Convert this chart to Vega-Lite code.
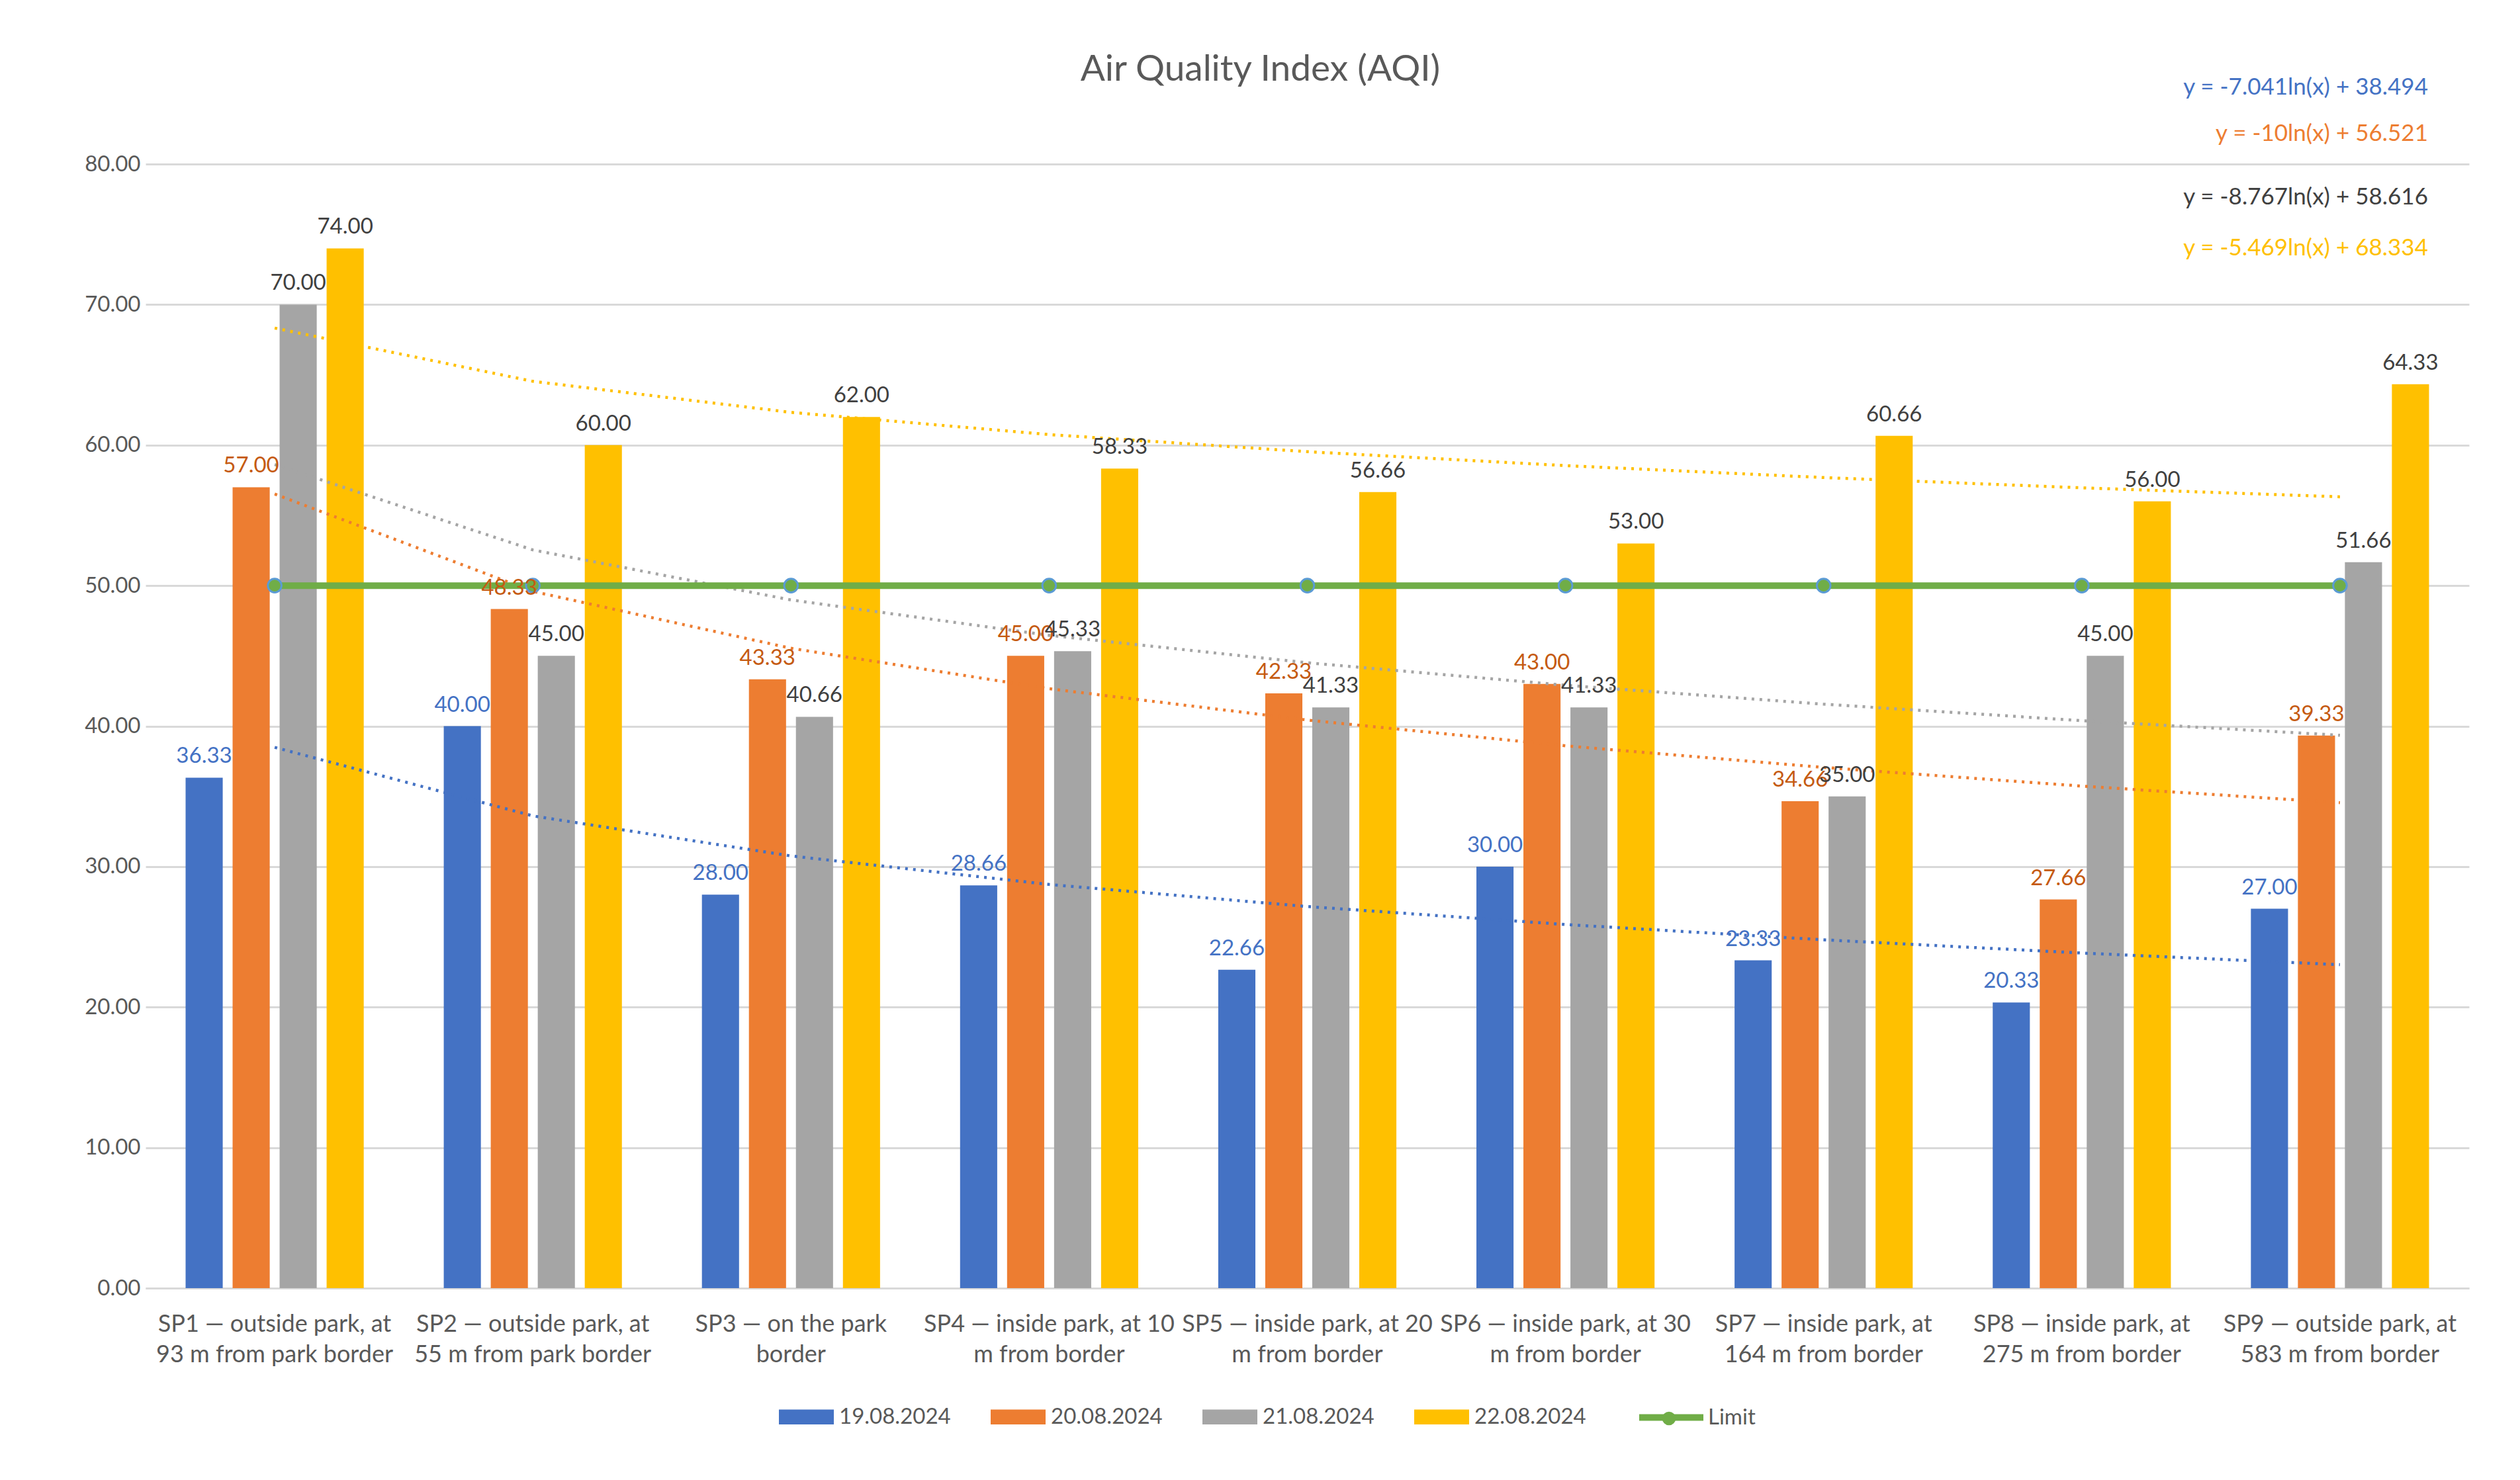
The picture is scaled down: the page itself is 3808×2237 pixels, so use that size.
{
  "$schema": "https://vega.github.io/schema/vega-lite/v6.json",
  "description": "Air Quality Index (AQI) by sampling point and day, with logarithmic trend lines and the limit line.",
  "width": 3511,
  "height": 1699,
  "autosize": {"type": "none"},
  "padding": {"left": 220, "top": 248, "right": 77, "bottom": 290},
  "background": "white",
  "title": {
    "text": "Air Quality Index (AQI)",
    "frame": "group",
    "anchor": "middle",
    "dx": -71,
    "offset": -62,
    "baseline": "alphabetic",
    "fontSize": 55,
    "font": "Lato",
    "fontWeight": "normal",
    "color": "#595959"
  },
  "datasets": {
    "aqi": [
      {"site": "SP1 — outside park, at\n93 m from park border", "series": "19.08.2024", "aqi": 36.33, "fit": 38.49},
      {"site": "SP1 — outside park, at\n93 m from park border", "series": "20.08.2024", "aqi": 57.00, "fit": 56.52},
      {"site": "SP1 — outside park, at\n93 m from park border", "series": "21.08.2024", "aqi": 70.00, "fit": 58.62},
      {"site": "SP1 — outside park, at\n93 m from park border", "series": "22.08.2024", "aqi": 74.00, "fit": 68.33},
      {"site": "SP2 — outside park, at\n55 m from park border", "series": "19.08.2024", "aqi": 40.00, "fit": 33.61},
      {"site": "SP2 — outside park, at\n55 m from park border", "series": "20.08.2024", "aqi": 48.33, "fit": 49.59},
      {"site": "SP2 — outside park, at\n55 m from park border", "series": "21.08.2024", "aqi": 45.00, "fit": 52.54},
      {"site": "SP2 — outside park, at\n55 m from park border", "series": "22.08.2024", "aqi": 60.00, "fit": 64.54},
      {"site": "SP3 — on the park\nborder", "series": "19.08.2024", "aqi": 28.00, "fit": 30.76},
      {"site": "SP3 — on the park\nborder", "series": "20.08.2024", "aqi": 43.33, "fit": 45.54},
      {"site": "SP3 — on the park\nborder", "series": "21.08.2024", "aqi": 40.66, "fit": 48.98},
      {"site": "SP3 — on the park\nborder", "series": "22.08.2024", "aqi": 62.00, "fit": 62.33},
      {"site": "SP4 — inside park, at 10\nm from border", "series": "19.08.2024", "aqi": 28.66, "fit": 28.73},
      {"site": "SP4 — inside park, at 10\nm from border", "series": "20.08.2024", "aqi": 45.00, "fit": 42.66},
      {"site": "SP4 — inside park, at 10\nm from border", "series": "21.08.2024", "aqi": 45.33, "fit": 46.46},
      {"site": "SP4 — inside park, at 10\nm from border", "series": "22.08.2024", "aqi": 58.33, "fit": 60.75},
      {"site": "SP5 — inside park, at 20\nm from border", "series": "19.08.2024", "aqi": 22.66, "fit": 27.16},
      {"site": "SP5 — inside park, at 20\nm from border", "series": "20.08.2024", "aqi": 42.33, "fit": 40.43},
      {"site": "SP5 — inside park, at 20\nm from border", "series": "21.08.2024", "aqi": 41.33, "fit": 44.51},
      {"site": "SP5 — inside park, at 20\nm from border", "series": "22.08.2024", "aqi": 56.66, "fit": 59.53},
      {"site": "SP6 — inside park, at 30\nm from border", "series": "19.08.2024", "aqi": 30.00, "fit": 25.88},
      {"site": "SP6 — inside park, at 30\nm from border", "series": "20.08.2024", "aqi": 43.00, "fit": 38.60},
      {"site": "SP6 — inside park, at 30\nm from border", "series": "21.08.2024", "aqi": 41.33, "fit": 42.91},
      {"site": "SP6 — inside park, at 30\nm from border", "series": "22.08.2024", "aqi": 53.00, "fit": 58.54},
      {"site": "SP7 — inside park, at\n164 m from border", "series": "19.08.2024", "aqi": 23.33, "fit": 24.79},
      {"site": "SP7 — inside park, at\n164 m from border", "series": "20.08.2024", "aqi": 34.66, "fit": 37.06},
      {"site": "SP7 — inside park, at\n164 m from border", "series": "21.08.2024", "aqi": 35.00, "fit": 41.56},
      {"site": "SP7 — inside park, at\n164 m from border", "series": "22.08.2024", "aqi": 60.66, "fit": 57.69},
      {"site": "SP8 — inside park, at\n275 m from border", "series": "19.08.2024", "aqi": 20.33, "fit": 23.85},
      {"site": "SP8 — inside park, at\n275 m from border", "series": "20.08.2024", "aqi": 27.66, "fit": 35.73},
      {"site": "SP8 — inside park, at\n275 m from border", "series": "21.08.2024", "aqi": 45.00, "fit": 40.39},
      {"site": "SP8 — inside park, at\n275 m from border", "series": "22.08.2024", "aqi": 56.00, "fit": 56.96},
      {"site": "SP9 — outside park, at\n583 m from border", "series": "19.08.2024", "aqi": 27.00, "fit": 23.02},
      {"site": "SP9 — outside park, at\n583 m from border", "series": "20.08.2024", "aqi": 39.33, "fit": 34.55},
      {"site": "SP9 — outside park, at\n583 m from border", "series": "21.08.2024", "aqi": 51.66, "fit": 39.35},
      {"site": "SP9 — outside park, at\n583 m from border", "series": "22.08.2024", "aqi": 64.33, "fit": 56.32}
    ],
    "limit": [
      {"site": "SP1 — outside park, at\n93 m from park border", "series": "Limit", "kind": "limit marker", "aqi": 50},
      {"site": "SP2 — outside park, at\n55 m from park border", "series": "Limit", "kind": "limit marker", "aqi": 50},
      {"site": "SP3 — on the park\nborder", "series": "Limit", "kind": "limit marker", "aqi": 50},
      {"site": "SP4 — inside park, at 10\nm from border", "series": "Limit", "kind": "limit marker", "aqi": 50},
      {"site": "SP5 — inside park, at 20\nm from border", "series": "Limit", "kind": "limit marker", "aqi": 50},
      {"site": "SP6 — inside park, at 30\nm from border", "series": "Limit", "kind": "limit marker", "aqi": 50},
      {"site": "SP7 — inside park, at\n164 m from border", "series": "Limit", "kind": "limit marker", "aqi": 50},
      {"site": "SP8 — inside park, at\n275 m from border", "series": "Limit", "kind": "limit marker", "aqi": 50},
      {"site": "SP9 — outside park, at\n583 m from border", "series": "Limit", "kind": "limit marker", "aqi": 50}
    ],
    "equations": [
      {"site": "SP9 — outside park, at\n583 m from border", "series": "19.08.2024", "equation": "y = -7.041ln(x) + 38.494", "aqi": 85.45},
      {"site": "SP9 — outside park, at\n583 m from border", "series": "20.08.2024", "equation": "y = -10ln(x) + 56.521", "aqi": 82.15},
      {"site": "SP9 — outside park, at\n583 m from border", "series": "21.08.2024", "equation": "y = -8.767ln(x) + 58.616", "aqi": 77.65},
      {"site": "SP9 — outside park, at\n583 m from border", "series": "22.08.2024", "equation": "y = -5.469ln(x) + 68.334", "aqi": 74.0}
    ]
  },
  "encoding": {
    "x": {
      "field": "site",
      "type": "nominal",
      "title": null,
      "scale": {
        "domain": [
          "SP1 — outside park, at\n93 m from park border",
          "SP2 — outside park, at\n55 m from park border",
          "SP3 — on the park\nborder",
          "SP4 — inside park, at 10\nm from border",
          "SP5 — inside park, at 20\nm from border",
          "SP6 — inside park, at 30\nm from border",
          "SP7 — inside park, at\n164 m from border",
          "SP8 — inside park, at\n275 m from border",
          "SP9 — outside park, at\n583 m from border"
        ],
        "paddingInner": 0.31,
        "paddingOuter": 0.155
      },
      "axis": {
        "labelExpr": "split(datum.label, '\\n')",
        "labelAngle": 0,
        "labelFont": "Lato",
        "labelFontSize": 36,
        "labelColor": "#595959",
        "labelPadding": 37,
        "labelLineHeight": 46,
        "labelLimit": 1000,
        "ticks": false,
        "grid": false,
        "domainColor": "#D9D9D9",
        "domainWidth": 3
      }
    },
    "y": {
      "field": "aqi",
      "type": "quantitative",
      "title": null,
      "scale": {"domain": [0, 80], "nice": false},
      "axis": {
        "values": [0, 10, 20, 30, 40, 50, 60, 70, 80],
        "format": ".2f",
        "grid": true,
        "gridColor": "#D9D9D9",
        "gridWidth": 3,
        "domain": false,
        "ticks": false,
        "labelFont": "Lato",
        "labelFontSize": 33,
        "labelColor": "#595959",
        "labelPadding": 8
      }
    }
  },
  "layer": [
    {
      "data": {"name": "aqi"},
      "mark": {"type": "bar"},
      "encoding": {
        "xOffset": {
          "field": "series",
          "type": "nominal",
          "scale": {"domain": ["19.08.2024", "20.08.2024", "21.08.2024", "22.08.2024"], "paddingInner": 0.21, "paddingOuter": 0}
        },
        "color": {
          "field": "series",
          "type": "nominal",
          "scale": {
            "domain": ["19.08.2024", "20.08.2024", "21.08.2024", "22.08.2024"],
            "range": ["#4472C4", "#ED7D31", "#A5A5A5", "#FFC000"]
          },
          "legend": {
            "title": null,
            "orient": "none",
            "legendX": 957,
            "legendY": 1852,
            "direction": "horizontal",
            "columns": 4,
            "padding": 0,
            "columnPadding": 60,
            "symbolType": "M-1,-0.27H1V0.27H-1Z",
            "symbolSize": 6889,
            "symbolStrokeWidth": 0,
            "symbolOpacity": 1,
            "labelFont": "Lato",
            "labelFontSize": 33,
            "labelColor": "#595959",
            "labelOffset": 8,
            "labelLimit": 400
          }
        }
      }
    },
    {
      "data": {"name": "aqi"},
      "mark": {"type": "line", "strokeWidth": 4.5, "strokeDash": [4, 8]},
      "encoding": {
        "y": {"field": "fit", "type": "quantitative"},
        "stroke": {
          "field": "series",
          "type": "nominal",
          "scale": {
            "domain": ["19.08.2024", "20.08.2024", "21.08.2024", "22.08.2024"],
            "range": ["#4472C4", "#ED7D31", "#A5A5A5", "#FFC000"]
          },
          "legend": null
        }
      }
    },
    {
      "data": {"name": "limit"},
      "mark": {"type": "line", "color": "#70AD47", "strokeWidth": 10},
      "encoding": {
        "strokeDash": {
          "field": "series",
          "type": "nominal",
          "scale": {"domain": ["Limit"], "range": [[1, 0]]},
          "legend": {
            "title": null,
            "orient": "none",
            "legendX": 2252,
            "legendY": 1841,
            "padding": 0,
            "symbolType": "stroke",
            "symbolSize": 9409,
            "symbolStrokeColor": "#70AD47",
            "symbolStrokeWidth": 10,
            "labelFont": "Lato",
            "labelFontSize": 33,
            "labelColor": "#595959",
            "labelOffset": 2
          }
        }
      }
    },
    {
      "data": {"name": "limit"},
      "mark": {"type": "point", "filled": true, "fill": "#70AD47", "stroke": "#5B9BD5", "strokeWidth": 3, "size": 420, "opacity": 1},
      "encoding": {
        "shape": {
          "field": "kind",
          "type": "nominal",
          "scale": {"domain": ["limit marker"], "range": ["circle"]},
          "legend": {
            "title": null,
            "orient": "none",
            "legendX": 2290,
            "legendY": 1884,
            "padding": 0,
            "symbolSize": 420,
            "symbolFillColor": "#70AD47",
            "symbolStrokeColor": "#5B9BD5",
            "symbolStrokeWidth": 3,
            "symbolOpacity": 1,
            "labelExpr": "''",
            "labelFontSize": 1,
            "labelOffset": 0
          }
        }
      }
    },
    {
      "data": {"name": "aqi"},
      "mark": {"type": "text", "baseline": "alphabetic", "dy": -22, "font": "Lato", "fontSize": 33},
      "encoding": {
        "xOffset": {"field": "series", "type": "nominal"},
        "text": {"field": "aqi", "type": "quantitative", "format": ".2f"},
        "fill": {
          "condition": [
            {"test": "datum.series === '19.08.2024'", "value": "#4472C4"},
            {"test": "datum.series === '20.08.2024'", "value": "#C55A11"}
          ],
          "value": "#404040"
        }
      }
    },
    {
      "data": {"name": "equations"},
      "mark": {"type": "text", "align": "right", "baseline": "middle", "dx": 133, "font": "Lato", "fontSize": 35},
      "encoding": {
        "text": {"field": "equation", "type": "nominal"},
        "fill": {
          "condition": [
            {"test": "datum.series === '19.08.2024'", "value": "#4472C4"},
            {"test": "datum.series === '20.08.2024'", "value": "#ED7D31"},
            {"test": "datum.series === '22.08.2024'", "value": "#FFC000"}
          ],
          "value": "#404040"
        }
      }
    }
  ],
  "config": {
    "view": {"stroke": null},
    "font": "Lato"
  }
}
